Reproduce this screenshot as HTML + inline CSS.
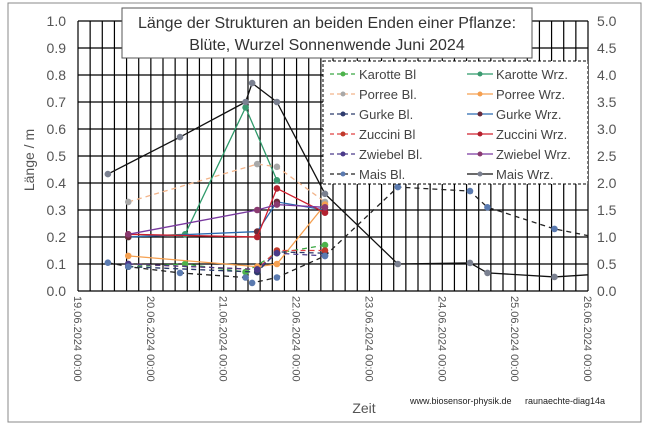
<!DOCTYPE html>
<html><head><meta charset="utf-8"><style>
body{margin:0;background:#fff;font-family:"Liberation Sans",sans-serif}
svg text{font-family:"Liberation Sans",sans-serif}
</style></head><body>
<svg id="c" width="653" height="432" xmlns="http://www.w3.org/2000/svg">
<rect x="8" y="3" width="633" height="419" fill="#fff" stroke="#888"/>
<g id="grid"></g><g id="series"></g><g id="axes"></g>
<rect x="122" y="8" width="410" height="50" fill="#fff" stroke="#555"/>
<text x="327" y="28" text-anchor="middle" font-size="16" fill="#333">Länge der Strukturen an  beiden Enden einer Pflanze:</text>
<text x="327" y="50" text-anchor="middle" font-size="16" fill="#333">Blüte, Wurzel    Sonnenwende  Juni 2024</text>
<g id="legend"></g>
<text x="34" y="160" transform="rotate(-90 34 160)" text-anchor="middle" font-size="14" fill="#555">Länge / m</text>
<text x="364" y="413" text-anchor="middle" font-size="14" fill="#555">Zeit</text>
<text x="410" y="404" font-size="9" fill="#222">www.biosensor-physik.de</text>
<text x="525" y="404" font-size="9" fill="#222">raunaechte-diag14a</text>
</svg>
<script>
const dateLabels=["19.06.2024 00:00","20.06.2024 00:00","21.06.2024 00:00","22.06.2024 00:00","23.06.2024 00:00","24.06.2024 00:00","25.06.2024 00:00","26.06.2024 00:00"];
const leftTicks=["0.0","0.1","0.2","0.3","0.4","0.5","0.6","0.7","0.8","0.9","1.0"];
const rightTicks=["0.0","0.5","1.0","1.5","2.0","2.5","3.0","3.5","4.0","4.5","5.0"];
const seriesNames=["Karotte Bl","Karotte Wrz.","Porree Bl.","Porree Wrz.","Gurke Bl.","Gurke Wrz.","Zuccini Bl","Zuccini Wrz.","Zwiebel Bl.","Zwiebel Wrz.","Mais Bl.","Mais Wrz."];
const karotteBlX=[0.69,1.47,2.30,2.73,3.39], karotteBlY=[0.09,0.10,0.07,0.14,0.17];
const karotteWrzX=[0.69,1.47,2.30,2.73], karotteWrzY=[0.20,0.21,0.68,0.41];
const porreeBlX=[0.69,2.46,2.73,3.39], porreeBlY=[0.33,0.47,0.46,0.33];
const porreeWrzX=[0.69,2.46,2.73,3.39], porreeWrzY=[0.13,0.09,0.10,0.32];
const gurkeBlX=[0.69,2.46,2.73,3.39], gurkeBlY=[0.09,0.07,0.145,0.14];
const gurkeWrzX=[0.69,2.46,2.73,3.39], gurkeWrzY=[0.20,0.22,0.33,0.30];
const zucciniBlX=[0.69,2.46,2.73,3.39], zucciniBlY=[0.10,0.08,0.15,0.15];
const zucciniWrzX=[0.69,2.46,2.73,3.39], zucciniWrzY=[0.21,0.20,0.38,0.29];
const zwiebelBlX=[0.69,2.46,2.73,3.39], zwiebelBlY=[0.10,0.08,0.14,0.13];
const zwiebelWrzX=[0.69,2.46,2.73,3.39], zwiebelWrzY=[0.21,0.30,0.32,0.31];
const maisBlX=[0.41,0.69,1.40,2.30,2.39,2.73,3.39,4.39,5.38,5.62,6.54,7.0], maisBlY=[0.105,0.09,0.067,0.05,0.03,0.05,0.13,0.385,0.37,0.31,0.23,0.205];
const maisWrzX=[0.41,1.40,2.30,2.39,2.73,3.39,4.39,5.38,5.62,6.54,7.0], maisWrzY=[0.433,0.57,0.70,0.77,0.70,0.36,0.10,0.104,0.067,0.052,0.06];

const X0=78,X1=588,Y0=291,Y1=21,NS="http://www.w3.org/2000/svg";
const xs=d=>X0+d*(X1-X0)/7, ys=v=>Y0-v*(Y0-Y1);
function mk(t,a,p){const e=document.createElementNS(NS,t);for(const k in a)e.setAttribute(k,a[k]);p.appendChild(e);return e;}
const G=document.getElementById('grid'),A=document.getElementById('axes'),S=document.getElementById('series'),L=document.getElementById('legend');
for(let i=0;i<=42;i++){const x=xs(i/6);const l=mk('line',{x1:x,x2:x,y1:Y1,y2:Y0,stroke:'#000','stroke-width':1.2},G);
}
for(let i=0;i<leftTicks.length;i++){const y=ys(i/10);const l=mk('line',{x1:X0,x2:X1,y1:y,y2:y,stroke:'#000','stroke-width':1.2},G);

const t=mk('text',{x:66,y:y+5,'text-anchor':'end','font-size':14,fill:'#555'},A);t.textContent=leftTicks[i];

const r=mk('text',{x:597,y:y+5,'font-size':14,fill:'#555'},A);r.textContent=rightTicks[i];
}
dateLabels.forEach((s,i)=>{const x=xs(i)-4,y=296;const t=mk('text',{x:x,y:y,transform:`rotate(90 ${x} ${y})`,'font-size':11,fill:'#555'},A);t.textContent=s;
});
const defs=[[karotteBlX,karotteBlY,'#3aa843',1,'#4cb34a'],[karotteWrzX,karotteWrzY,'#2e9a6a',0,'#3a9a70'],
[porreeBlX,porreeBlY,'#f2b48a',1,'#a8a8a8'],[porreeWrzX,porreeWrzY,'#f5a050',0,'#f5a050'],
[gurkeBlX,gurkeBlY,'#2a3a6a',1,'#2e3b6e'],[gurkeWrzX,gurkeWrzY,'#2a6ab0',0,'#6a2a3a'],
[zucciniBlX,zucciniBlY,'#e04040',1,'#c0392b'],[zucciniWrzX,zucciniWrzY,'#d0202e',0,'#b3202e'],
[zwiebelBlX,zwiebelBlY,'#4a3a8a',1,'#4a3a8a'],[zwiebelWrzX,zwiebelWrzY,'#7a3aa0',0,'#8a3a70'],
[maisBlX,maisBlY,'#222',1,'#5a7ab0'],[maisWrzX,maisWrzY,'#111',0,'#7a8090']];
defs.forEach((d,k)=>{const [dx,dy,col,dash,mc]=d;const pts=dx.map((x,i)=>xs(x)+','+ys(dy[i])).join(' ');
const pl=mk('polyline',{points:pts,fill:'none',stroke:col,'stroke-width':1.3,'stroke-dasharray':dash?'5,4':'none'},S);

dx.forEach((x,i)=>{if(x>=6.99)return;const c=mk('circle',{cx:xs(x),cy:ys(dy[i]),r:3.3,fill:mc},S);
});
const col2=k%2,row=Math.floor(k/2),lx=col2?467:330,ly=74+row*20;
const ll=mk('line',{x1:lx,x2:lx+26,y1:ly,y2:ly,stroke:col,'stroke-width':1.3,'stroke-dasharray':dash?'4,3':'none'},L);

const lc=mk('circle',{cx:lx+13,cy:ly,r:2.5,fill:mc},L);
const lt=mk('text',{x:lx+29,y:ly+5,'font-size':13,fill:'#444'},L);lt.textContent=seriesNames[k];
});
const lb=mk('rect',{x:323,y:61,width:265,height:123,fill:'none',stroke:'#000','stroke-dasharray':'3,2'},L);
L.insertBefore(mk('rect',{x:323,y:61,width:265,height:123,fill:'#fff'},L),L.firstChild);

</script>
</body></html>
